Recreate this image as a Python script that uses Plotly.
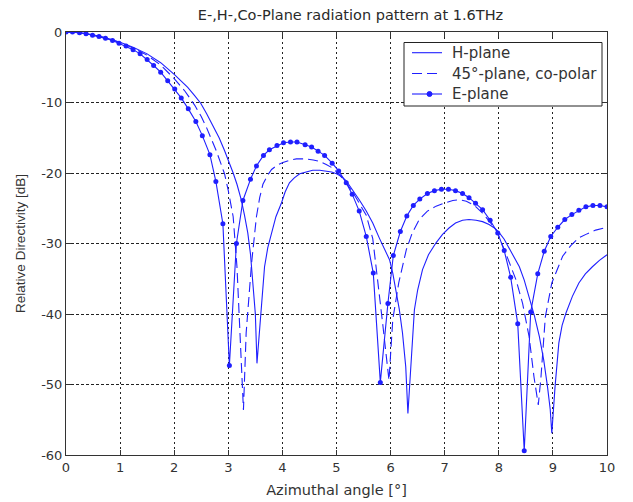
import plotly.graph_objects as go

# ---------------- data ----------------
h_angle = [0, 0.25, 0.5, 0.75, 1.0, 1.25, 1.5, 1.75, 2.0, 2.12, 2.25, 2.37, 2.49,
           2.6, 2.72, 2.83, 2.93, 3.02, 3.09, 3.16, 3.24, 3.30, 3.36, 3.41, 3.46, 3.50, 3.53,
           3.58, 3.62, 3.67, 3.73, 3.80, 3.88, 3.98, 4.05, 4.13, 4.22, 4.32, 4.44, 4.56, 4.69,
           4.81, 4.91, 5.0, 5.09, 5.18, 5.30, 5.42, 5.55, 5.67, 5.79, 5.88, 5.98, 6.04, 6.10,
           6.16, 6.22, 6.28, 6.32, 6.35, 6.38, 6.44, 6.50, 6.59, 6.70, 6.84, 6.96, 7.08, 7.20,
           7.33, 7.45, 7.58, 7.70, 7.82, 7.92, 8.0, 8.10, 8.19, 8.29, 8.38, 8.47, 8.56, 8.66,
           8.75, 8.83, 8.90, 8.95, 8.98, 9.01, 9.04, 9.11, 9.17, 9.24, 9.36, 9.48, 9.60, 9.73,
           9.86, 10.0]
h_plane = [0, -0.1, -0.4, -0.85, -1.45, -2.2, -3.1, -4.35, -6.0, -6.85, -7.85, -8.95, -10.1,
           -11.6, -13.3, -15.0, -16.8, -18.5, -20.0, -21.6, -23.8, -26.0, -28.5, -31.5, -35.6, -40.0, -47.0,
           -41.8, -37.5, -33.3, -30.6, -28.5, -26.2, -24.3, -22.7, -21.4, -20.7, -20.1, -19.8, -19.6, -19.6,
           -19.7, -19.85, -20.1, -20.5, -21.1, -22.4, -23.8, -25.4, -27.1, -29.2, -30.7, -32.3, -34.2, -36.6,
           -39.3, -42.7, -47.5, -54.1, -50.0, -46.5, -39.4, -36.6, -33.7, -31.6, -29.9, -28.7, -27.8, -27.1,
           -26.7, -26.6, -26.7, -26.9, -27.3, -27.8, -28.4, -29.4, -30.6, -31.9, -33.3, -35.2, -37.5, -40.3,
           -43.2, -46.5, -50.3, -53.5, -56.9, -53.5, -50.3, -44.1, -41.6, -39.9, -37.5, -35.6, -34.3, -33.3,
           -32.4, -31.6]

d_angle = [0, 0.25, 0.5, 0.75, 1.0, 1.25, 1.5, 1.75, 2.0, 2.2, 2.38, 2.5, 2.6, 2.7, 2.78, 2.86,
           2.93, 3.0, 3.09, 3.16, 3.22, 3.28, 3.33, 3.43, 3.52, 3.58, 3.64, 3.72, 3.80, 3.90, 4.01,
           4.13, 4.26, 4.44, 4.57, 4.69, 4.81, 4.93, 5.05, 5.18, 5.30, 5.42, 5.55, 5.67, 5.78, 5.86,
           5.97, 6.04, 6.15, 6.29, 6.40, 6.53, 6.68, 6.84, 7.02, 7.15, 7.27, 7.40, 7.55, 7.70, 7.82,
           7.95, 8.13, 8.32, 8.44, 8.56, 8.65, 8.73, 8.78, 8.86, 8.98, 9.18, 9.33, 9.48, 9.64, 9.79, 10.0]
d_plane = [0, -0.1, -0.4, -0.85, -1.5, -2.3, -3.3, -4.7, -6.6, -8.4, -10.4, -12.0, -13.6, -15.3, -16.9, -18.6,
           -20.1, -22.5, -26.2, -33.3, -42.7, -53.6, -42.7, -32.8, -26.2, -23.5, -21.6, -20.4, -19.5, -18.9, -18.5,
           -18.2, -18.0, -18.0, -18.15, -18.35, -18.8, -19.3, -20.2, -21.4, -22.7, -24.3, -26.0, -29.3, -36.1, -41.8,
           -49.4, -40.8, -35.6, -30.9, -28.5, -26.6, -25.4, -24.7, -24.2, -23.9, -23.8, -24.0, -24.6, -25.7, -26.8,
           -28.05, -31.4, -35.2, -38.5, -43.2, -48.9, -52.9, -48.9, -40.4, -35.6, -31.8, -30.3, -29.2, -28.6, -28.1, -27.7]

e_angle = [0.0, 0.12, 0.25, 0.37, 0.49, 0.61, 0.73, 0.86, 0.98, 1.11, 1.24, 1.37, 1.50, 1.62,
           1.75, 1.88, 2.01, 2.13, 2.26, 2.40, 2.52, 2.66, 2.77, 2.90, 3.02, 3.15, 3.27, 3.41,
           3.52, 3.65, 3.76, 3.90, 4.02, 4.15, 4.27, 4.42, 4.54, 4.66, 4.78, 4.92, 5.04, 5.18,
           5.29, 5.42, 5.55, 5.68, 5.81, 5.95, 6.05, 6.18, 6.30, 6.42, 6.54, 6.68, 6.81, 6.94,
           7.07, 7.20, 7.33, 7.45, 7.57, 7.70, 7.84, 7.98, 8.10, 8.22, 8.35, 8.47, 8.59, 8.72,
           8.84, 8.96, 9.09, 9.22, 9.35, 9.48, 9.61, 9.74, 9.87, 10.0]
e_plane = [0.0, 0.0, -0.1, -0.25, -0.45, -0.65, -0.9, -1.2, -1.6, -2.0, -2.5, -3.1, -3.9, -4.75,
           -5.7, -6.9, -8.1, -9.35, -10.9, -12.7, -14.7, -17.4, -21.2, -27.2, -47.3, -30.0, -23.9, -20.9,
           -19.0, -17.5, -16.7, -16.1, -15.7, -15.6, -15.6, -16.0, -16.3, -16.9, -17.5, -18.6, -19.7, -21.4,
           -23.0, -25.4, -29.0, -34.2, -49.7, -38.5, -31.7, -28.3, -26.1, -24.6, -23.7, -22.9, -22.5, -22.3,
           -22.3, -22.5, -22.9, -23.5, -24.3, -25.2, -26.7, -28.5, -31.0, -34.8, -41.4, -59.4, -39.7, -34.3,
           -31.1, -29.0, -27.7, -26.6, -25.9, -25.3, -24.8, -24.6, -24.6, -24.8]

series_names = ["H-plane", "45°-plane, co-polar", "E-plane"]
x_ticks = [0, 1, 2, 3, 4, 5, 6, 7, 8, 9, 10]
y_ticks = [0, -10, -20, -30, -40, -50, -60]

title_text = "E-,H-,Co-Plane radiation pattern at 1.6THz"
x_title = "Azimuthal angle [°]"
y_title = "Relative Directivity [dB]"

# ---------------- figure ----------------
BLUE = "#1f1fff"
WIDE = "'DejaVu Sans', Verdana, sans-serif"
NARROW = "Arial, 'Liberation Sans', sans-serif"
TXT = "#2a2a2a"
W, H = 625, 494
ML, MR, MT, MB = 58, 26, 24, 47
PW, PH = W - ML - MR, H - MT - MB

styles = [dict(dash="solid", marker=False),
          dict(dash="10px,5px", marker=False),
          dict(dash="solid", marker=True)]
data = [(h_angle, h_plane), (d_angle, d_plane), (e_angle, e_plane)]

fig = go.Figure()
for (xs, ys), name, st in zip(data, series_names, styles):
    fig.add_trace(go.Scatter(
        x=xs, y=ys, mode="lines+markers" if st["marker"] else "lines", name=name,
        showlegend=False,
        line=dict(color=BLUE, width=1.1, dash=st["dash"]),
        marker=dict(color=BLUE, size=5, symbol="circle")))

# --- MATLAB-style legend box (drawn in plot-area paper coordinates) ---
def px_x(page_x):
    return (page_x - 8 - ML) / PW

def px_y(page_y):
    return 1 - (page_y - 8 - MT) / PH

shapes = [dict(type="rect", xref="paper", yref="paper",
               x0=px_x(404), x1=px_x(602), y0=px_y(106), y1=px_y(42.5),
               line=dict(color="#222", width=1), fillcolor="white", layer="above")]
annotations = []
row_y = [52.7, 73.5, 94]
for name, st, ry in zip(series_names, styles, row_y):
    shapes.append(dict(type="line", xref="paper", yref="paper",
                       x0=px_x(412), x1=px_x(442), y0=px_y(ry), y1=px_y(ry),
                       line=dict(color=BLUE, width=1.1, dash=st["dash"]), layer="above"))
    if st["marker"]:
        shapes.append(dict(type="circle", xref="paper", yref="paper",
                           x0=px_x(427), x1=px_x(432), y0=px_y(ry + 2.5), y1=px_y(ry - 2.5),
                           line=dict(color=BLUE, width=1), fillcolor=BLUE, layer="above"))
    annotations.append(dict(text=name, xref="paper", yref="paper", x=px_x(450), y=px_y(ry),
                            xanchor="left", yanchor="middle", showarrow=False,
                            font=dict(family=WIDE, size=15, color="#333")))

fig.update_layout(
    width=W, height=H,
    margin=dict(l=ML, r=MR, t=MT, b=MB),
    paper_bgcolor="white", plot_bgcolor="white",
    font=dict(family=WIDE, size=13, color=TXT),
    title=dict(text=title_text, x=0.548, xanchor="center", y=0.986, yanchor="middle",
               font=dict(family=WIDE, size=14.5, color=TXT)),
    showlegend=False,
    shapes=shapes, annotations=annotations,
)

fig.update_xaxes(range=[0, 10], tickvals=x_ticks, ticktext=[str(v) for v in x_ticks],
                 ticks="inside", ticklen=5, tickcolor="#333", showline=True, linecolor="#333",
                 linewidth=1, mirror="allticks", showgrid=True, gridcolor="#222", gridwidth=1,
                 griddash="2px,3px", zeroline=False, automargin=False,
                 tickfont=dict(family=WIDE, size=13, color="#333"),
                 title=dict(text=x_title, standoff=11, font=dict(family=WIDE, size=14.5, color="#333")))
fig.update_yaxes(range=[-60, 0], tickvals=y_ticks, ticktext=[str(v) for v in y_ticks],
                 ticks="inside", ticklen=5, tickcolor="#333", showline=True, linecolor="#333",
                 linewidth=1, mirror="allticks", showgrid=True, gridcolor="#222", gridwidth=1,
                 griddash="3px,2px", zeroline=False, automargin=False,
                 tickfont=dict(family=WIDE, size=13, color="#333"),
                 title=dict(text=y_title, standoff=12, font=dict(family=NARROW, size=13.5, color="#333")))

fig.write_html("out.html")
